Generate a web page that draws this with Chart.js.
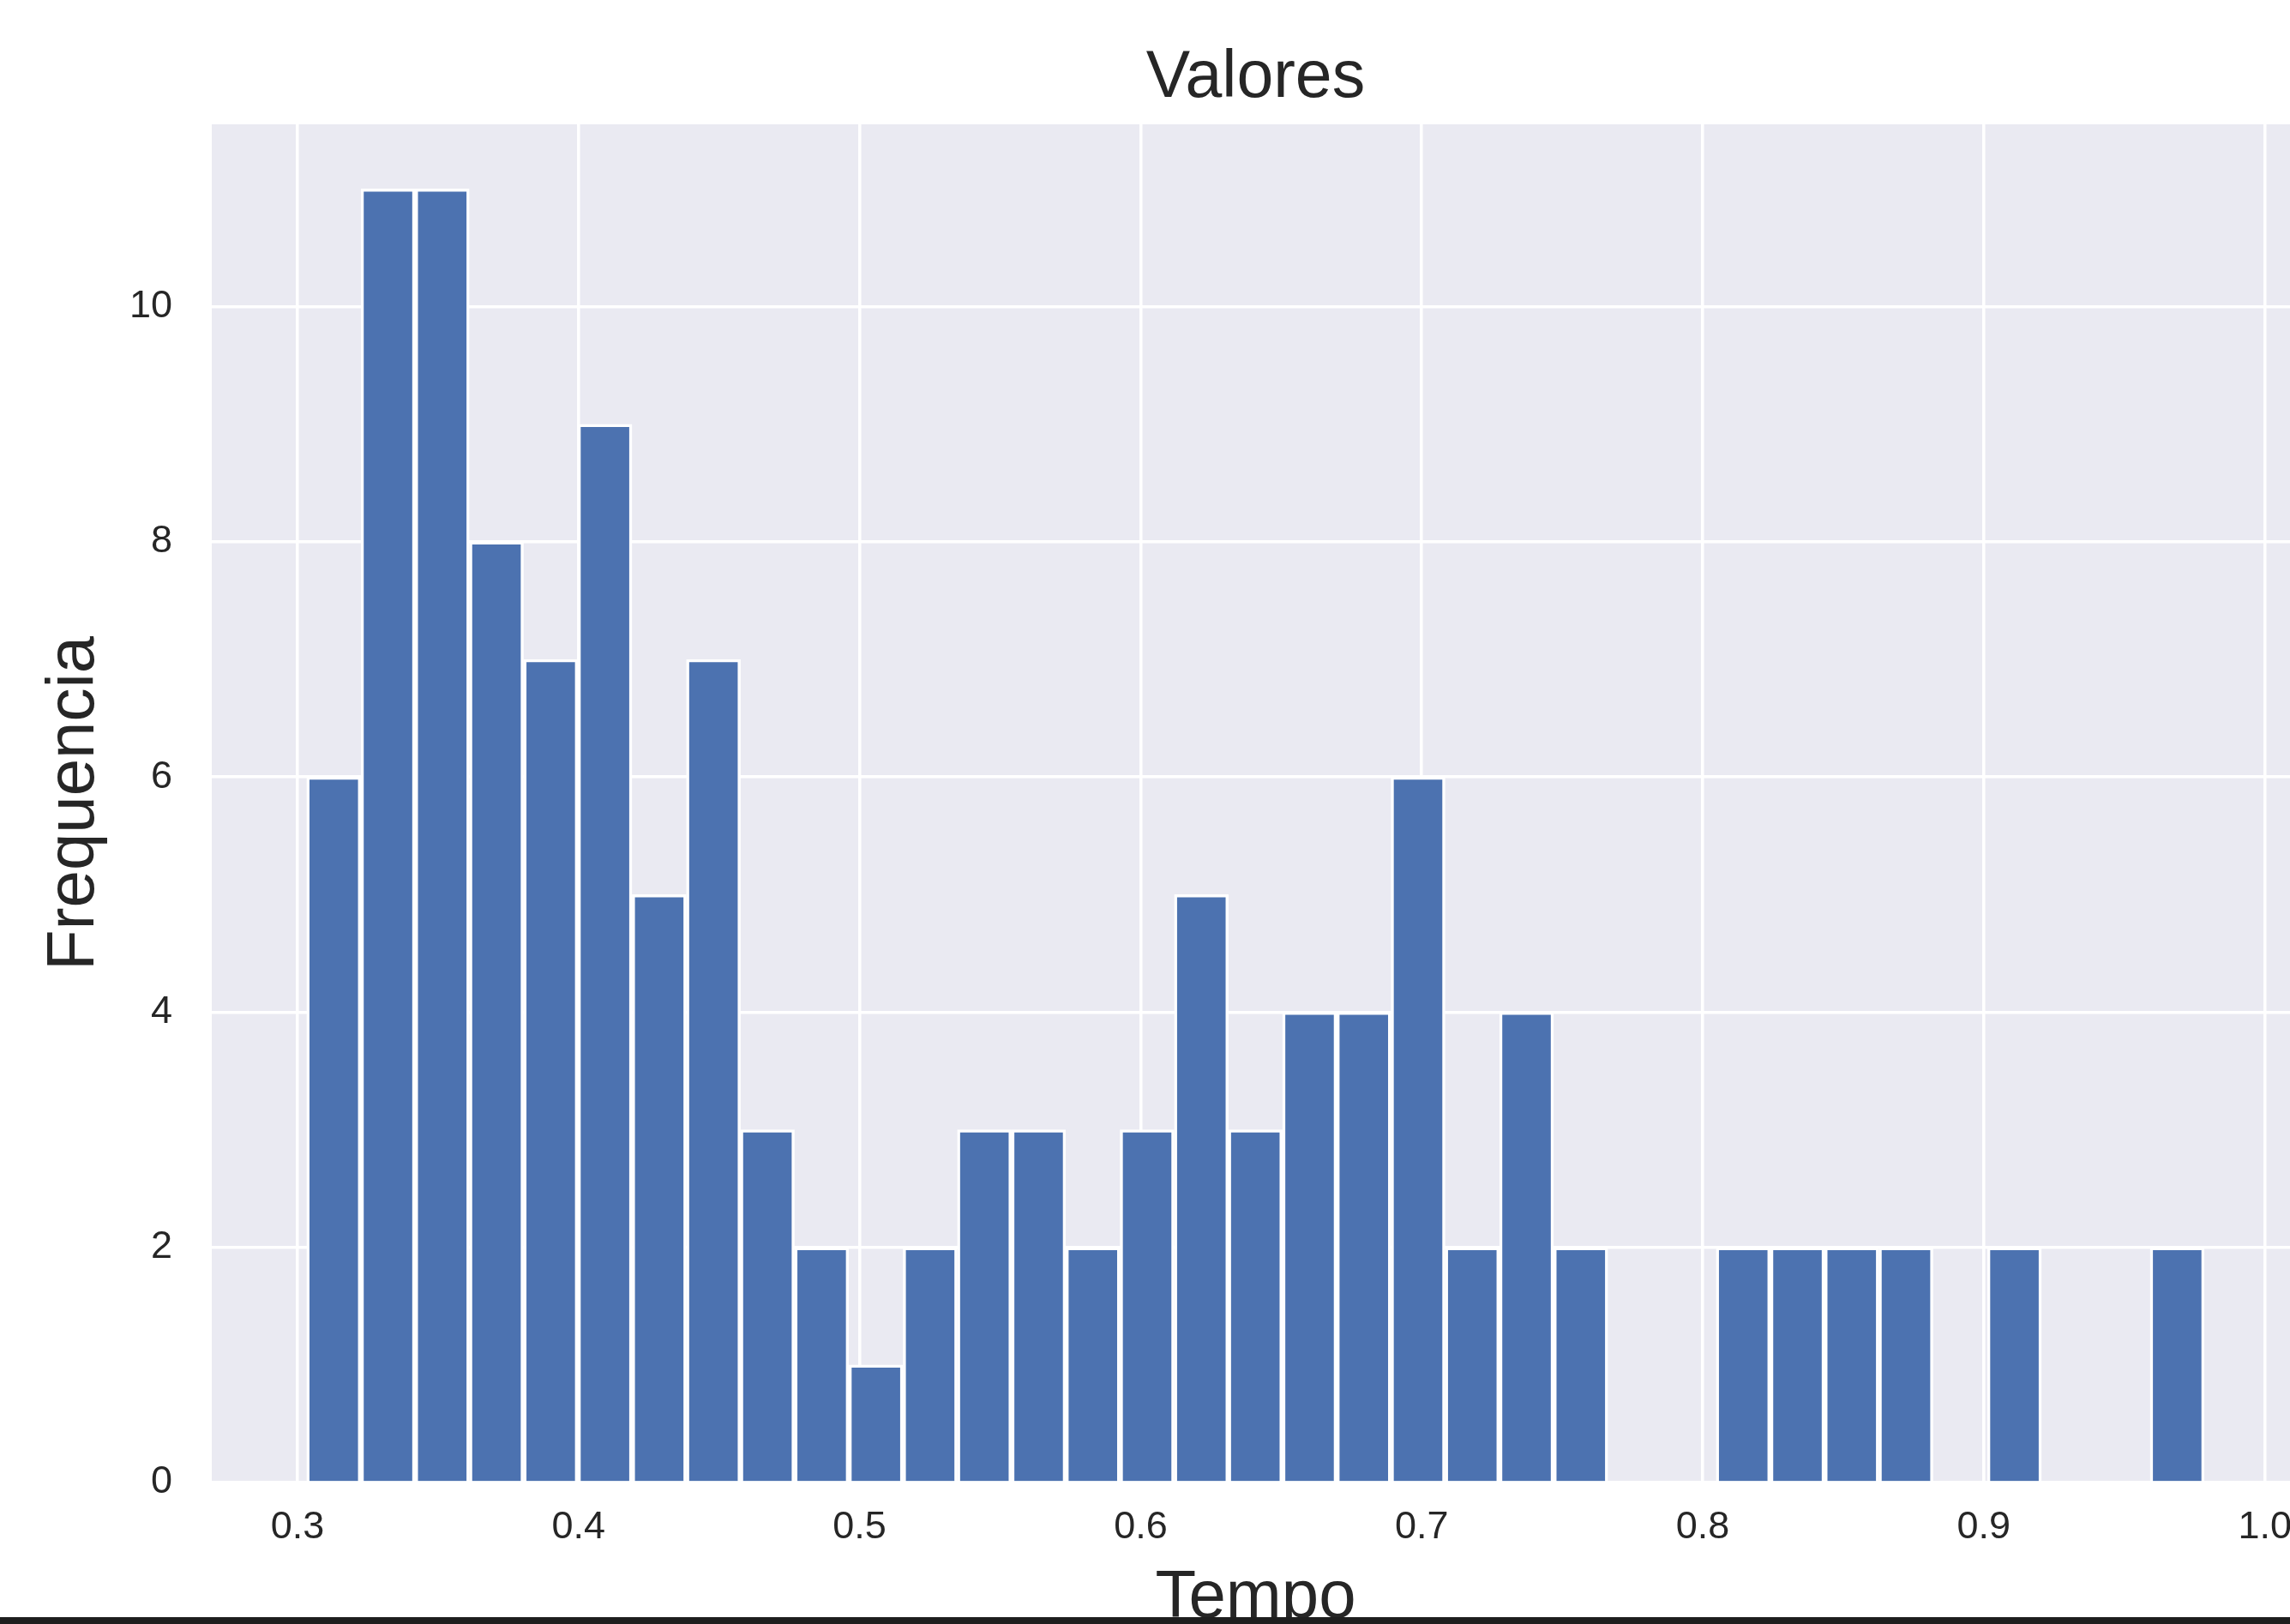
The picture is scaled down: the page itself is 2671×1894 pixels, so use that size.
<!DOCTYPE html>
<html>
<head>
<meta charset="utf-8">
<title>Valores</title>
<script src="https://cdn.jsdelivr.net/npm/chart.js@4.4.1/dist/chart.umd.min.js"></script>
<style>
  html, body { margin: 0; padding: 0; background: #fff; overflow: hidden; }
  #wrap { position: relative; width: 2671px; height: 1894px; overflow: hidden; }
  #hist { position: absolute; left: 0; top: 0; }
  #edge { position: absolute; left: 0; top: 1886px; width: 2671px; height: 8px; background: #1e1e1e; }
</style>
</head>
<body>
<div id="wrap">
  <canvas id="hist" width="2700" height="1940"></canvas>
  <div id="edge"></div>
</div>
<script>
// ————————————————
// 1) Data (35 bins)
// ————————————————
const binCenters = [
  0.3129, 0.3322, 0.3515, 0.3708, 0.3901, 0.4094, 0.4287, 0.4480, 0.4672, 0.4865,
  0.5058, 0.5251, 0.5444, 0.5637, 0.5830, 0.6023, 0.6216, 0.6408, 0.6601, 0.6794,
  0.6987, 0.7180, 0.7373, 0.7566, 0.7759, 0.7952, 0.8144, 0.8337, 0.8530, 0.8723,
  0.8916, 0.9109, 0.9302, 0.9495, 0.9688
];
const counts = [
  6, 11, 11, 8, 7, 9, 5, 7, 3, 2,
  1, 2, 3, 3, 2, 3, 5, 3, 4, 4,
  6, 2, 4, 2, 0, 0, 2, 2, 2, 2,
  0, 2, 0, 0, 2
];
const xTicks = [0.3, 0.4, 0.5, 0.6, 0.7, 0.8, 0.9, 1.0];
const yTicks = [0, 2, 4, 6, 8, 10];

const TEXT = '#262626';
const FONT = "'Liberation Sans', Arial, sans-serif";

// ————————————————
// 2) Grey plot background (seaborn darkgrid look)
// ————————————————
const plotBg = {
  id: 'plotBg',
  beforeDraw(chart) {
    const { ctx, chartArea: a } = chart;
    ctx.save();
    ctx.fillStyle = '#EAEAF2';
    ctx.fillRect(a.left, a.top, a.right - a.left, a.bottom - a.top);
    ctx.restore();
  }
};

// ————————————————
// 3) Chart
// ————————————————
const ctx = document.getElementById('hist').getContext('2d');
new Chart(ctx, {
  type: 'bar',
  data: {
    datasets: [{
      data: binCenters.map((x, i) => ({ x, y: counts[i] })),
      backgroundColor: '#4C72B0',
      borderColor: '#ffffff',
      borderWidth: 3.5,
      borderSkipped: 'start',
      barPercentage: 1,
      categoryPercentage: 1
    }]
  },
  options: {
    responsive: false,
    animation: false,
    layout: { padding: { left: 0, top: 0, right: 18, bottom: 0 } },
    plugins: {
      legend: { display: false },
      tooltip: { enabled: false },
      title: {
        display: true,
        text: 'Valores',
        fullSize: false,
        color: TEXT,
        font: { family: FONT, size: 77, weight: 'normal' },
        padding: { top: 46, bottom: 6.6 }
      }
    },
    scales: {
      x: {
        type: 'linear',
        offset: false,
        min: 0.2695,
        max: 1.0123,
        afterBuildTicks: s => { s.ticks = xTicks.map(value => ({ value })); },
        afterFit: s => { s.height = 211; },
        border: { display: false },
        grid: { offset: false, color: '#ffffff', lineWidth: 3.5, drawTicks: false },
        ticks: {
          color: TEXT,
          font: { family: FONT, size: 45 },
          padding: 26,
          maxRotation: 0,
          autoSkip: false,
          callback: v => Number(v).toFixed(1)
        },
        title: {
          display: true,
          text: 'Tempo',
          color: TEXT,
          font: { family: FONT, size: 78 },
          padding: { top: 0, bottom: 29 }
        }
      },
      y: {
        type: 'linear',
        min: 0,
        max: 11.55,
        afterBuildTicks: s => { s.ticks = yTicks.map(value => ({ value })); },
        afterFit: s => { s.width = 247; },
        border: { display: false },
        grid: { color: '#ffffff', lineWidth: 3.5, drawTicks: false },
        ticks: {
          color: TEXT,
          font: { family: FONT, size: 45 },
          padding: 46
        },
        title: {
          display: true,
          text: 'Frequencia',
          color: TEXT,
          font: { family: FONT, size: 78 },
          padding: { top: 41, bottom: 0 }
        }
      }
    }
  },
  plugins: [plotBg]
});
</script>
</body>
</html>
